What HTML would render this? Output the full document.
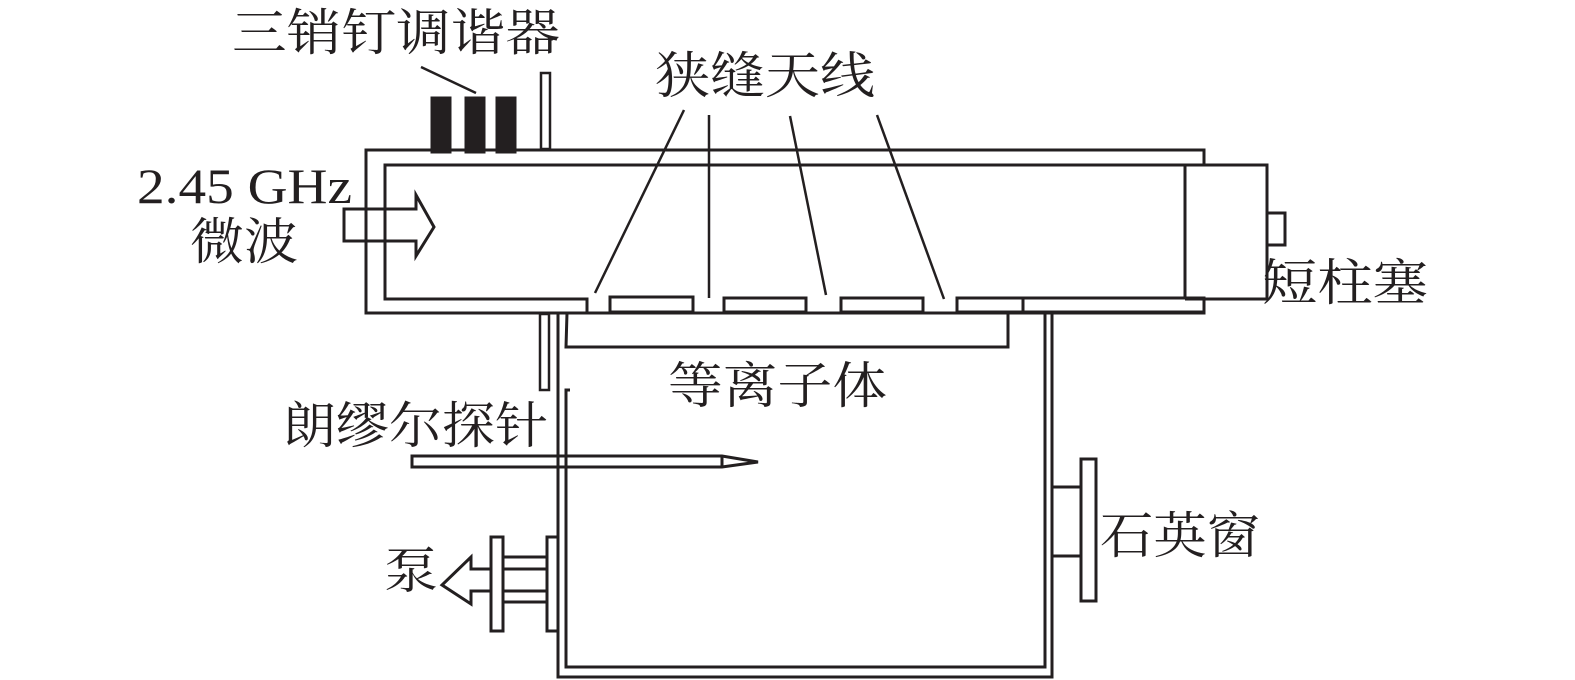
<!DOCTYPE html>
<html><head><meta charset="utf-8"><style>
html,body{margin:0;padding:0;background:#fff;}
svg{display:block;}
text{font-family:"Liberation Serif","Noto Serif CJK SC",serif;fill:#231f20;}
</style></head><body>
<svg width="1575" height="680" viewBox="0 0 1575 680" xmlns="http://www.w3.org/2000/svg">
<g fill="none" stroke="#231f20" stroke-width="3">
<!-- waveguide outer -->
<polyline points="1204,165 1204,150 366,150 366,313 1204,313 1204,299"/>
<!-- inner -->
<polyline points="587,313 587,299 385,299 385,165 1267,165 1267,299 1185,299"/>
<line x1="1185" y1="165" x2="1185" y2="299"/>
<polyline points="1267,213 1285,213 1285,245 1267,245"/>
<!-- slot bars -->
<rect x="610" y="297" width="83" height="15"/>
<rect x="724" y="298" width="82" height="14"/>
<rect x="841" y="298" width="82" height="14"/>
<rect x="957" y="298" width="66" height="14"/>
<rect x="1023" y="298" width="181" height="14"/>
<!-- tuner pins -->
<rect x="432" y="98" width="18" height="54" fill="#231f20"/>
<rect x="466" y="98" width="18" height="54" fill="#231f20"/>
<rect x="497" y="98" width="18" height="54" fill="#231f20"/>
<line x1="421" y1="67" x2="476" y2="93" stroke-width="2.5"/>
<rect x="541" y="73" width="9" height="76" stroke-width="2.5"/>
<!-- arrow in -->
<polygon points="344,209 416,209 416,195 434,227 416,256 416,241 344,241" fill="#fff"/>
<line x1="366" y1="209" x2="366" y2="241"/>
<line x1="385" y1="209" x2="385" y2="241"/>
<!-- antenna label lines -->
<g stroke-width="2.5">
<line x1="684" y1="110" x2="595" y2="293"/>
<line x1="709" y1="115" x2="709" y2="298"/>
<line x1="790" y1="116" x2="826" y2="295"/>
<line x1="877" y1="115" x2="944" y2="299"/>
</g>
<!-- lower post -->
<rect x="540" y="314" width="9" height="76" stroke-width="2.5"/>
<!-- plasma bracket -->
<polyline points="567,313 566,347 1008,347 1008,313"/>
<!-- chamber -->
<polyline points="558,313 558,677 1052,677 1052,313"/>
<polyline points="570,390 566,390 566,667 1045,667 1045,313"/>
<!-- probe -->
<polygon points="412,456 722,456 758,462 722,467 412,467" fill="#fff"/>
<line x1="722" y1="456" x2="722" y2="467"/>
<line x1="558" y1="456" x2="558" y2="467"/>
<line x1="566" y1="456" x2="566" y2="467"/>
<!-- pump -->
<rect x="547" y="537" width="11" height="94"/>
<rect x="491" y="537" width="12" height="94"/>
<line x1="503" y1="557" x2="547" y2="557"/>
<line x1="503" y1="569" x2="547" y2="569"/>
<line x1="503" y1="591" x2="547" y2="591"/>
<line x1="503" y1="602" x2="547" y2="602"/>
<polyline points="491,569 471,569 471,557 442,585 471,604 471,591 491,591"/>
<!-- quartz window -->
<line x1="1052" y1="487" x2="1081" y2="487"/>
<line x1="1052" y1="556" x2="1081" y2="556"/>
<rect x="1081" y="459" width="15" height="142"/>
</g>
<g font-size="50">
<text x="232" y="50" textLength="328" lengthAdjust="spacingAndGlyphs">三销钉调谐器</text>
<text x="655" y="93" textLength="220" lengthAdjust="spacingAndGlyphs">狭缝天线</text>
<text x="137" y="203" textLength="215" lengthAdjust="spacingAndGlyphs">2.45 GHz</text>
<text x="190" y="259" textLength="108" lengthAdjust="spacingAndGlyphs">微波</text>
<text x="1262" y="300" textLength="166" lengthAdjust="spacingAndGlyphs">短柱塞</text>
<text x="668" y="403" textLength="219" lengthAdjust="spacingAndGlyphs">等离子体</text>
<text x="283" y="443" textLength="265" lengthAdjust="spacingAndGlyphs">朗缪尔探针</text>
<text x="384" y="588" textLength="54" lengthAdjust="spacingAndGlyphs">泵</text>
<text x="1100" y="553" textLength="160" lengthAdjust="spacingAndGlyphs">石英窗</text>
</g>
</svg>
</body></html>
